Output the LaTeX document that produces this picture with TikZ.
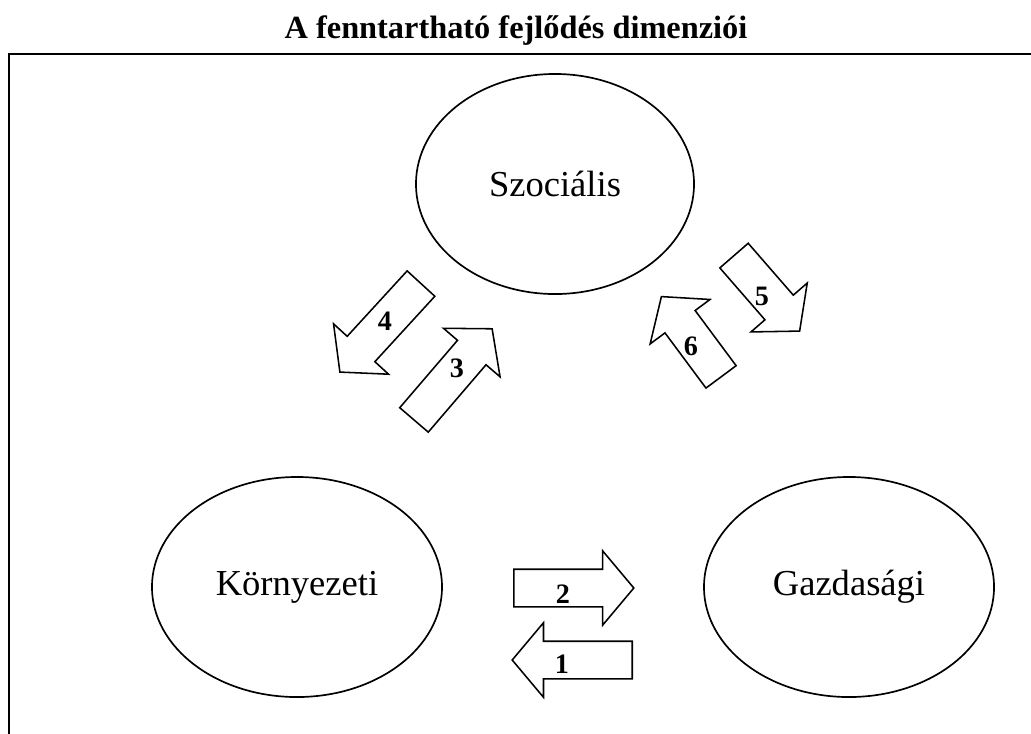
\documentclass[tikz,border=0pt]{standalone}
\usepackage{fontspec}
\setmainfont{Liberation Serif}
\usetikzlibrary{shapes.arrows, shapes.geometric}

\tikzset{
	dim/.style = {ellipse, draw, line width = 1.2pt, inner sep = 0pt, minimum width = 7.25cm, minimum height = 5.5cm, font = \fontsize{26}{30}\selectfont},
	blockarr/.style = {single arrow, draw, line width = 1.1pt, inner xsep = 0pt, inner ysep = 0.45cm, single arrow head extend = 0.4625cm, single arrow tip angle = 100, anchor = tail},
	num/.style = {font = \bfseries\fontsize{20}{22}\selectfont}
}

\begin{document}
\begin{tikzpicture}[x = 0.025cm, y = -0.025cm]
	\useasboundingbox (0,0) rectangle (1031,733);
	\clip (0,0) rectangle (1031,733);

	\node[font = \bfseries\fontsize{23}{26}\selectfont, anchor = base] (title) at (516,38) {A fenntartható fejlődés dimenziói};
	\draw[line width = 1.2pt] (9,800) -- (9,54) -- (1100,54);

	\node[dim, minimum width = 6.95cm] (szoc) at (555,184) {Szociális};
	\node[dim] (korny) at (297,587) {Környezeti};
	\node[dim] (gazd) at (849,587) {Gazdasági};

	\node[blockarr, minimum height = 3cm, rotate = 0] (a2) at (513,588) {};
	\node[blockarr, minimum height = 3cm, rotate = 180] (a1) at (633,660) {};
	\node[blockarr, minimum height = 3cm, rotate = 227.5] (a4) at (421.5,283) {};
	\node[blockarr, minimum height = 3cm, rotate = 49.4] (a3) at (413.5,420.5) {};
	\node[blockarr, minimum height = 2.5cm, rotate = -49] (a5) at (733.5,255) {};
	\node[blockarr, minimum height = 2.5cm, rotate = 126.6] (a6) at (721.5,377.5) {};

	\node[num] (n2) at (563,594) {2};
	\node[num] (n1) at (562,664) {1};
	\node[num] (n4) at (385,321) {4};
	\node[num] (n3) at (457,368) {3};
	\node[num] (n5) at (762,296) {5};
	\node[num] (n6) at (691,346) {6};
\end{tikzpicture}
\end{document}
